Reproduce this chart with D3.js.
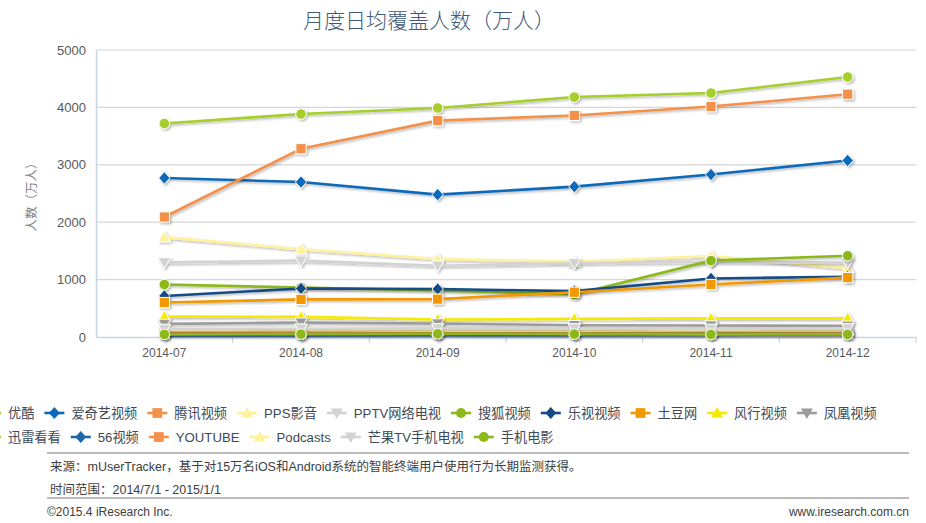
<!DOCTYPE html>
<html><head><meta charset="utf-8">
<script src="https://cdn.jsdelivr.net/npm/d3@7"></script>
<style>
body{margin:0;background:#fff;}
svg{display:block;font-family:"Liberation Sans","Noto Sans CJK SC",sans-serif;}
</style></head>
<body><svg id="c" width="926" height="523"></svg>
<script>
const months = ["2014-07","2014-08","2014-09","2014-10","2014-11","2014-12"];
const yTicks = [0,1000,2000,3000,4000,5000];
const seriesNames = ["优酷","爱奇艺视频","腾讯视频","PPS影音","PPTV网络电视","搜狐视频","乐视视频","土豆网","风行视频","凤凰视频","迅雷看看","56视频","YOUTUBE","Podcasts","芒果TV手机电视","手机电影"];
const seriesColors = ["#a6cf2c","#0c69b9","#f3904a","#fff29c","#d3d3d3","#8cb81a","#154b84","#f39800","#f5ea00","#9c9c9c","#a9cc4e","#1b66ad","#f3904a","#fff29c","#d3d3d3","#8cb81a"];
const seriesMarkers = ["circle","diamond","square","triangle","down","circle","diamond","square","triangle","down","circle","diamond","square","triangle","down","circle"];
const v_youku   = [3720,3885,3990,4180,4250,4530];
const v_iqiyi   = [2770,2700,2480,2620,2830,3075];
const v_tencent = [2090,3280,3770,3860,4015,4230];
const v_pps     = [1740,1530,1360,1310,1410,1200];
const v_pptv    = [1300,1330,1240,1285,1310,1295];
const v_sohu    = [915,860,810,740,1330,1415];
const v_letv    = [715,845,835,800,1020,1050];
const v_tudou   = [600,655,660,780,915,1035];
const v_funshion= [355,350,305,315,325,325];
const v_ifeng   = [228,250,235,205,200,195];
const v_xunlei  = [95,100,105,100,90,95];
const v_56      = [25,25,30,30,35,45];
const v_youtube = [60,60,65,60,55,60];
const v_podcast = [115,120,110,110,115,115];
const v_mango   = [140,145,150,150,140,150];
const v_movie   = [45,50,55,50,45,45];
const seriesValues = [v_youku,v_iqiyi,v_tencent,v_pps,v_pptv,v_sohu,v_letv,v_tudou,v_funshion,v_ifeng,v_xunlei,v_56,v_youtube,v_podcast,v_mango,v_movie];

const svg = d3.select("#c");
const defs = svg.append("defs");
const f = defs.append("filter").attr("id","sh").attr("x","-10%").attr("y","-10%").attr("width","130%").attr("height","130%");
f.append("feDropShadow").attr("dx",1.5).attr("dy",1.5).attr("stdDeviation",1).attr("flood-color","#000").attr("flood-opacity",0.28);

const L=96,R=916,T=50,B=337;
const x = d3.scaleBand().domain(months).range([L,R]).paddingInner(0).paddingOuter(0);
const y = d3.scaleLinear().domain([0,5000]).range([B,T]);

// title
svg.append("text").attr("x",429).attr("y",28).attr("text-anchor","middle")
  .attr("font-size",21).attr("fill","#42597a").attr("font-family","Noto Sans CJK SC").attr("font-weight",300)
  .text("月度日均覆盖人数（万人）");

// gridlines
svg.append("g").selectAll("line").data(yTicks.filter(d=>d>0)).join("line")
  .attr("x1",L).attr("x2",R).attr("y1",d=>y(d)).attr("y2",d=>y(d))
  .attr("stroke","#d6d6d6").attr("stroke-width",1.2);

// y axis
const ya = svg.append("g").attr("transform",`translate(${L},0)`)
  .call(d3.axisLeft(y).tickValues(yTicks).tickFormat(d3.format("d")).tickSize(0).tickPadding(10));
ya.select(".domain").attr("stroke","#c9d5e4").attr("stroke-width",1.5);
ya.selectAll("text").attr("font-size",13).attr("fill","#595959").attr("font-family","Liberation Sans");

svg.append("text").attr("transform","translate(36,194) rotate(-90)").attr("text-anchor","middle")
  .attr("font-size",12.5).attr("fill","#808080").attr("font-family","Noto Sans CJK SC").text("人数（万人）");

// x axis
const xa = svg.append("g").attr("transform",`translate(0,${B})`)
  .call(d3.axisBottom(x).tickSize(0).tickPadding(11));
xa.select(".domain").attr("stroke","#c9d5e4").attr("stroke-width",1.5);
xa.selectAll("text").attr("font-size",12).attr("fill","#595959").attr("font-family","Liberation Sans");
svg.append("g").selectAll("line").data(months.slice(1).concat(["end"])).join("line")
  .attr("x1",d=>d==="end"?R:x(d)).attr("x2",d=>d==="end"?R:x(d))
  .attr("y1",B).attr("y2",B+6).attr("stroke","#c9d5e4").attr("stroke-width",1.2);

// markers
function markerPath(type,s){
  if(type==="circle") return d3.symbol(d3.symbolCircle, s*s*0.8)();
  if(type==="square") return d3.symbol(d3.symbolSquare, s*s*0.95)();
  if(type==="diamond"){const h=s*0.6;return `M0,${-h}L${h*0.9},0L0,${h}L${-h*0.9},0Z`;}
  if(type==="triangle"){const h=s*0.6;return `M0,${-h}L${h},${h*0.75}L${-h},${h*0.75}Z`;}
  if(type==="down"){const h=s*0.6;return `M0,${h}L${h},${-h*0.75}L${-h},${-h*0.75}Z`;}
}
const line = d3.line().x((d,i)=>x(months[i])+x.bandwidth()/2).y(d=>y(d));
const gS = svg.append("g");
seriesValues.forEach((vals,si)=>{
  const g = gS.append("g").attr("filter","url(#sh)");
  g.append("path").attr("d",line(vals)).attr("fill","none")
    .attr("stroke",seriesColors[si]).attr("stroke-width",2.6);
  g.selectAll("path.m").data(vals).join("path").attr("class","m")
    .attr("transform",(d,i)=>`translate(${x(months[i])+x.bandwidth()/2},${y(d)})`)
    .attr("d",markerPath(seriesMarkers[si],10.5))
    .attr("fill",seriesColors[si]).attr("stroke","#fff").attr("stroke-width",1);
});

// legend
const rows = [[0,1,2,3,4,5,6,7,8,9],[10,11,12,13,14,15]];
const rowY = [413,437];
const lg = svg.append("g");
rows.forEach((row,ri)=>{
  let cx = -19;
  row.forEach(si=>{
    const g = lg.append("g");
    g.append("line").attr("x1",cx).attr("x2",cx+20).attr("y1",rowY[ri]).attr("y2",rowY[ri])
      .attr("stroke",seriesColors[si]).attr("stroke-width",2.6);
    g.append("path").attr("transform",`translate(${cx+10},${rowY[ri]})`)
      .attr("d",markerPath(seriesMarkers[si],10)).attr("fill",seriesColors[si]);
    const t = g.append("text").attr("x",cx+27).attr("y",rowY[ri]+4.5)
      .attr("font-size",13.2).attr("fill","#404a57").text(seriesNames[si]);
    cx = cx+27+t.node().getComputedTextLength()+10;
  });
});

// footer
svg.append("line").attr("x1",47).attr("x2",909).attr("y1",453).attr("y2",453).attr("stroke","#a6a6a6").attr("stroke-width",1.5);
svg.append("line").attr("x1",47).attr("x2",909).attr("y1",498).attr("y2",498).attr("stroke","#a6a6a6").attr("stroke-width",1.5);
svg.append("text").attr("x",50).attr("y",471).attr("font-size",12.5).attr("fill","#404040")
  .text("来源：mUserTracker，基于对15万名iOS和Android系统的智能终端用户使用行为长期监测获得。");
svg.append("text").attr("x",50).attr("y",494).attr("font-size",12.5).attr("fill","#404040")
  .text("时间范围：2014/7/1 - 2015/1/1");
svg.append("text").attr("x",47).attr("y",516).attr("font-size",12).attr("fill","#404040")
  .text("©2015.4 iResearch Inc.");
svg.append("text").attr("x",909).attr("y",516).attr("text-anchor","end").attr("font-size",12).attr("fill","#404040")
  .text("www.iresearch.com.cn");
</script></body></html>
